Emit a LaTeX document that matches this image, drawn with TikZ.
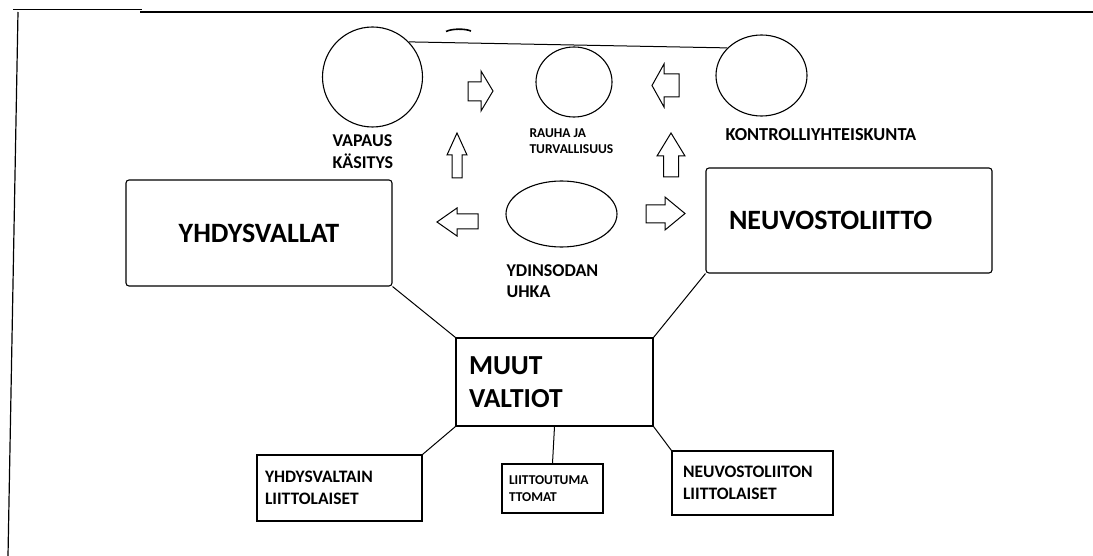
\documentclass[tikz,border=0pt]{standalone}
\usepackage{fontspec}
\setmainfont{Carlito}
\usetikzlibrary{shapes.geometric}
\begin{document}
\begin{tikzpicture}[x=1pt,y=-1pt,line width=1.1pt,
  circ/.style={draw,ellipse,inner sep=0pt},
  rbox/.style={draw,rectangle,rounded corners=3pt,inner sep=0pt,align=left},
  sbox/.style={draw,rectangle,inner sep=0pt,align=left},
  lbl/.style={inner sep=0pt,anchor=base west,align=left},
  barrow/.style={draw,line width=1pt,line join=miter},
  conn/.style={draw,line width=1pt}]
\useasboundingbox (0,0) rectangle (1093,556);
% frame lines
\draw[line width=1.6pt] (13,9.5) -- (142,9.5);
\draw[line width=1.1pt] (140,12) -- (1093,12);
\draw[line width=1.2pt] (18,12) -- (8,556);
\draw[line width=1.6pt] (446,31.5) .. controls (452,28.5) and (465,28.5) .. (471,31);
% circles
\node[circ,minimum width=100pt,minimum height=100pt] (vap) at (372.5,77) {};
\node[circ,minimum width=76pt,minimum height=70pt] (rau) at (574,82) {};
\node[circ,minimum width=91pt,minimum height=81pt] (kon) at (761.5,75.5) {};
\node[circ,minimum width=111pt,minimum height=66pt] (ydi) at (561.5,214) {};
% labels (anchor = baseline of the last line)
\node[lbl,font=\bfseries\fontsize{18}{22}\selectfont] (vapl) at (332,169) {VAPAUS\\KÄSITYS};
\node[lbl,font=\bfseries\fontsize{13.5}{16}\selectfont] (raul) at (529,154) {RAUHA JA\\TURVALLISUUS};
\node[lbl,font=\bfseries\fontsize{18.3}{22}\selectfont] (konl) at (725,141) {KONTROLLIYHTEISKUNTA};
\node[lbl,font=\bfseries\fontsize{18}{21}\selectfont] (ydil) at (506,298) {YDINSODAN\\UHKA};
% boxes
\node[rbox,minimum width=266pt,minimum height=106pt,align=center,font=\bfseries\fontsize{28}{33}\selectfont] (usa) at (259,233) {YHDYSVALLAT};
\node[rbox,minimum width=286pt,minimum height=105pt,inner xsep=23pt,text width=240pt,font=\bfseries\fontsize{28}{33}\selectfont] (nl) at (849,220.5) {NEUVOSTOLIITTO};
\node[sbox,minimum width=197pt,minimum height=88pt,inner xsep=13pt,text width=171pt,font=\bfseries\fontsize{27.5}{33}\selectfont] (muut) at (554.5,382) {MUUT\\VALTIOT};
\node[sbox,minimum width=165pt,minimum height=66pt,inner xsep=8pt,text width=149pt,font=\bfseries\fontsize{17.5}{22}\selectfont] (yl) at (339.5,488) {YHDYSVALTAIN\\LIITTOLAISET};
\node[sbox,minimum width=101pt,minimum height=49pt,inner xsep=7pt,text width=87pt,font=\bfseries\fontsize{13.5}{17}\selectfont] (lt) at (552.5,488.5) {LIITTOUTUMA\\TTOMAT};
\node[sbox,minimum width=161pt,minimum height=64pt,inner xsep=11pt,text width=139pt,font=\bfseries\fontsize{17.5}{22}\selectfont] (nll) at (752.5,483) {NEUVOSTOLIITON\\LIITTOLAISET};
% connectors
\draw[conn] (vap.44) -- (kon.141.5);
\draw[conn] (usa.south east) -- (muut.north west);
\draw[conn] (nl.south west) -- (muut.north east);
\draw[conn] (muut.south west) -- (yl.north east);
\draw[conn] (muut.south) -- (lt.north);
\draw[conn] (muut.south east) -- (nll.north west);
% block arrows
\draw[barrow] (468,82) -- (481,82) -- (481,71) -- (493,91) -- (481,111) -- (481,101) -- (468,101) -- cycle;
\draw[barrow] (679,74) -- (664,74) -- (664,64) -- (652,85.5) -- (664,107) -- (664,97) -- (679,97) -- cycle;
\draw[barrow] (452,178) -- (452,155) -- (447,155) -- (457,133) -- (467,155) -- (462,155) -- (462,178) -- cycle;
\draw[barrow] (663.5,177) -- (663.5,156) -- (657,156) -- (671,133) -- (685,156) -- (678.5,156) -- (678.5,177) -- cycle;
\draw[barrow] (478,214) -- (457,214) -- (457,208) -- (437,222) -- (457,236) -- (457,229) -- (478,229) -- cycle;
\draw[barrow] (646,205) -- (665,205) -- (665,197) -- (685,213.5) -- (665,230) -- (665,223) -- (646,223) -- cycle;
\end{tikzpicture}
\end{document}
